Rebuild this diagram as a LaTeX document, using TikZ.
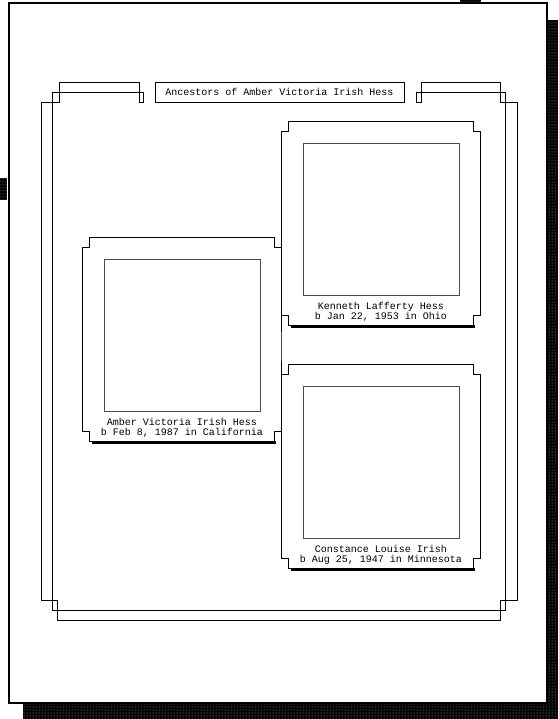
\documentclass[tikz,border=0pt]{standalone}
\usepackage{fontspec}
\setmonofont{Liberation Mono}
\usepackage{tikz}
\usetikzlibrary{positioning, calc, patterns}

\begin{document}
\begin{tikzpicture}[
    x=1pt, y=-1pt,
    picframe/.style={rectangle, minimum width=198pt, minimum height=203pt, inner sep=0pt},
    photo/.style={rectangle, draw=black!70, line width=0.6pt, minimum width=156pt, minimum height=152pt, inner sep=0pt},
    caption/.style={align=center, inner sep=0pt, text depth=0pt, font=\ttfamily\fontsize{10}{10}\selectfont},
    heading/.style={rectangle, draw, line width=0.8pt, minimum width=249pt, minimum height=20pt, inner sep=0pt, font=\ttfamily\fontsize{10}{10}\selectfont},
    rim/.style={draw, line width=0.8pt},
    ribbon/.style={draw, line width=0.7pt},
    stipple/.style={fill=black, postaction={pattern=dots, pattern color=white!70!black}},
    link/.style={draw, line width=0.7pt, color=black!70}
]
    \useasboundingbox (0,0) rectangle (558,719);

    % Page and its shadow
    \path[stipple] (548,20) rectangle (558,719);
    \path[stipple] (23,704) rectangle (558,719);
    \path[stipple] (0,178) rectangle (7,200);
    \path[stipple] (460,0) rectangle (481,3);
    \draw[line width=2.5pt] (9,3) rectangle (547,703);

    % Tree border
    \draw[ribbon] (139,102) -- (139,82) -- (59,82) -- (59,102) -- (41,102) -- (41,600)
        -- (57,600) -- (57,620) -- (500,620) -- (500,600) -- (517,600) -- (517,102)
        -- (500,102) -- (500,82) -- (421,82) -- (421,102) -- (416,102) -- (416,92)
        -- (505.5,92) -- (505.5,610) -- (52.5,610) -- (52.5,92) -- (143,92) -- (143,102) -- cycle;

    % Title
    \node (title) [heading] at (279.5,92) {Ancestors of Amber Victoria Irish Hess};

    % Frames
    \node (kenneth) [picframe] at (381,223.5) {};
    \node (constance) [picframe, below=39.5pt of kenneth] {};
    \node (amber) [picframe] at (182,339.5) {};

    \foreach \f in {amber,kenneth,constance}{
        \fill ($(\f.south west)+(9,0)$) rectangle ($(\f.south east)+(-5,3)$);
        \draw[rim] ($(\f.north west)+(7,0)$) -- ($(\f.north east)+(-7,0)$) -- ++(0,10) -- ++(7,0)
            -- ($(\f.south east)+(0,-10)$) -- ++(-7,0) -- ++(0,10)
            -- ($(\f.south west)+(7,0)$) -- ++(0,-10) -- ++(-7,0)
            -- ($(\f.north west)+(0,10)$) -- ++(7,0) -- cycle;
    }

    % Photos
    \node (amberpic) [photo, below=21pt of amber.north] {};
    \node (kennethpic) [photo, below=21pt of kenneth.north] {};
    \node (constancepic) [photo, below=21pt of constance.north] {};

    % Captions
    \node (ambercap) [caption, above=5.5pt of amber.south] {Amber Victoria Irish Hess\\b Feb 8, 1987 in California};
    \node (kennethcap) [caption, above=5.5pt of kenneth.south] {Kenneth Lafferty Hess\\b Jan 22, 1953 in Ohio};
    \node (constancecap) [caption, above=5.5pt of constance.south] {Constance Louise Irish\\b Aug 25, 1947 in Minnesota};

    % Connector
    \draw[link] ($(kenneth.south west)+(0,7)$) -- ($(constance.north west)+(0,-4)$);

\end{tikzpicture}
\end{document}
